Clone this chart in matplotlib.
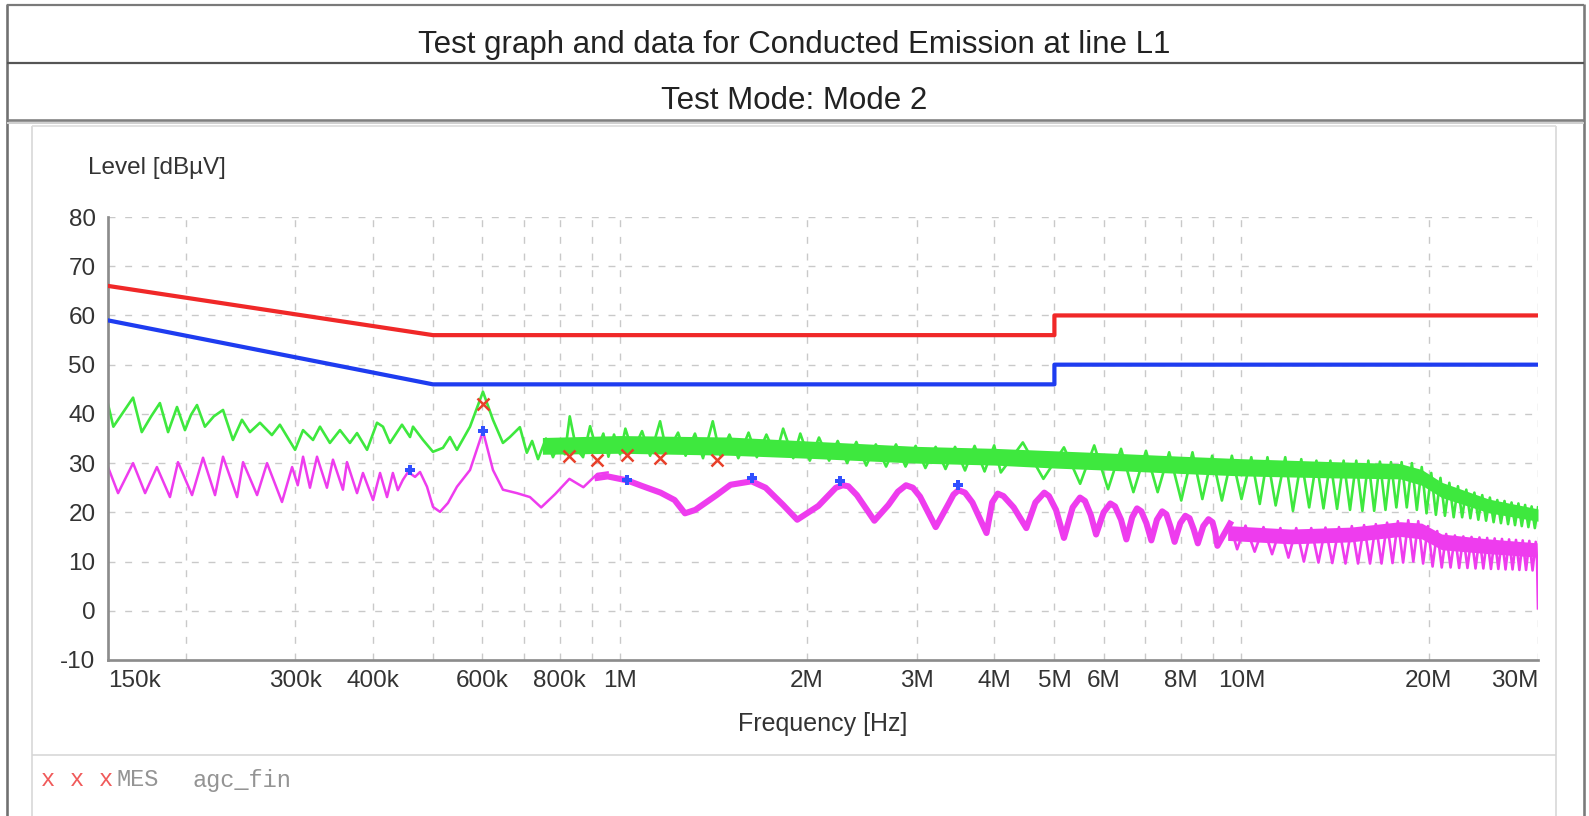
import matplotlib
matplotlib.use("Agg")
import matplotlib.pyplot as plt
from matplotlib.ticker import NullLocator

# ---------------- data (frequencies in MHz, levels in dBuV) ----------------
limit_qp_f = [0.15, 0.5, 5.0, 5.0, 30.0]
limit_qp_db = [66, 56, 56, 60, 60]
limit_av_f = [0.15, 0.5, 5.0, 5.0, 30.0]
limit_av_db = [59, 46, 46, 50, 50]

peak_f = [0.150, 0.153, 0.1646, 0.170, 0.1760, 0.1818, 0.1874, 0.1937, 0.1995, 0.2040,
          0.2086, 0.2148, 0.2220, 0.2297, 0.2383, 0.2464, 0.2538, 0.2634, 0.2753, 0.2836,
          0.300, 0.309, 0.3206, 0.329, 0.3413, 0.3543, 0.3676, 0.3774, 0.3917, 0.4064,
          0.4155, 0.4264, 0.4458, 0.4593, 0.4644, 0.482, 0.500, 0.5189, 0.5325, 0.5465,
          0.5736, 0.6018, 0.6245, 0.648, 0.665, 0.690, 0.708, 0.722, 0.738, 0.760,
          0.780, 0.800, 0.815, 0.830, 0.850, 0.872, 0.895, 0.918, 0.940, 0.958,
          0.978, 1.000, 1.020, 1.048, 1.085, 1.118, 1.160, 1.190, 1.240, 1.275,
          1.320, 1.360, 1.410, 1.450, 1.500, 1.550, 1.610, 1.660, 1.720, 1.780,
          1.830, 1.900, 1.950, 2.020, 2.090, 2.170, 2.240, 2.320, 2.400, 2.490,
          2.580, 2.680, 2.780, 2.880, 2.990, 3.100, 3.220, 3.340, 3.460, 3.590,
          3.720, 3.860, 4.000, 4.100, 4.448, 4.800, 5.180, 5.500, 5.795, 6.100,
          6.400, 6.700, 7.020, 7.330, 7.650, 8.000, 8.340, 8.650, 8.970, 9.300,
          9.650, 10.00, 10.37, 10.70, 11.01, 11.35, 11.76, 12.10, 12.48, 12.85,
          13.20, 13.55, 13.90, 14.25, 14.60, 14.95, 15.30, 15.65, 16.00, 16.35,
          16.70, 17.05, 17.40, 17.75, 18.10, 18.45, 18.80, 19.15, 19.50, 19.85,
          20.20, 20.55, 20.90, 21.25, 21.60, 21.95, 22.30, 22.65, 23.00, 23.35,
          23.70, 24.05, 24.40, 24.75, 25.10, 25.45, 25.80, 26.15, 26.50, 26.85,
          27.20, 27.55, 27.90, 28.25, 28.60, 28.95, 29.30, 29.65, 30.00]
peak_db = [42.0, 37.4, 43.3, 36.3, 39.5, 42.2, 36.3, 41.4, 36.7, 39.8,
           41.8, 37.4, 39.5, 40.8, 34.7, 38.8, 36.3, 38.2, 35.7, 37.8,
           32.7, 36.7, 34.7, 37.4, 34.1, 36.7, 34.1, 36.1, 32.7, 38.2,
           37.4, 34.1, 37.8, 35.3, 37.4, 34.7, 32.3, 33.1, 35.3, 32.7,
           37.4, 44.5, 38.8, 34.1, 35.3, 37.3, 32.1, 34.5, 30.8, 35.0,
           31.2, 34.5, 31.8, 39.5, 33.0, 31.2, 37.5, 32.5, 36.0, 31.3,
           35.8, 31.8, 37.0, 32.3, 36.5, 31.5, 38.5, 32.0, 36.2, 31.5,
           36.0, 31.0, 38.5, 31.5, 35.8, 31.0, 36.2, 31.2, 35.8, 31.5,
           37.0, 31.0, 36.0, 30.5, 35.2, 30.5, 34.5, 30.0, 34.3, 29.5,
           33.8, 29.3, 33.8, 29.3, 33.5, 29.0, 33.3, 28.8, 33.3, 28.5,
           33.5, 28.3, 33.6, 28.1, 34.2, 26.8, 33.2, 25.8, 33.6, 24.7,
           32.9, 24.1, 32.5, 24.1, 32.2, 22.4, 32.2, 22.7, 31.5, 22.4,
           31.5, 22.7, 31.2, 21.7, 31.2, 21.4, 31.2, 20.3, 30.8, 21.0,
           30.5, 20.8, 30.5, 20.7, 30.5, 20.5, 30.5, 20.3, 30.5, 20.3,
           30.3, 20.5, 30.2, 21.0, 30.2, 21.0, 30.0, 20.5, 29.2, 19.8,
           28.0, 19.5, 27.0, 19.3, 26.0, 19.0, 25.3, 19.0, 24.6, 18.8,
           24.0, 18.5, 23.5, 18.3, 23.0, 18.0, 22.5, 17.8, 22.3, 17.6,
           22.0, 17.4, 21.8, 17.2, 21.5, 17.0, 21.2, 16.8, 21.0]

peak_band_f = [0.75, 1.0, 1.5, 2.0, 3.0, 4.0, 5.0, 6.0, 8.0, 10.0, 14.0, 18.0, 19.5, 21.0, 25.0, 30.0]
peak_band_hi = [35.2, 35.6, 35.3, 34.5, 33.4, 33.0, 32.5, 32.1, 31.4, 30.9, 30.3, 29.9, 28.7, 26.1, 22.7, 20.7]
peak_band_lo = [31.8, 32.0, 31.6, 31.0, 30.0, 29.6, 29.0, 28.6, 27.9, 27.4, 27.0, 26.8, 25.5, 23.0, 19.9, 18.2]

avg_thin_f = [0.150, 0.1557, 0.1646, 0.1721, 0.1798, 0.1887, 0.1944, 0.2048, 0.2133, 0.2230,
              0.2297, 0.2420, 0.2474, 0.2606, 0.2704, 0.2858, 0.2967, 0.3030, 0.3090, 0.3170,
              0.3254, 0.3376, 0.3452, 0.3582, 0.3636, 0.3774, 0.3858, 0.4005, 0.4110, 0.4218,
              0.4310, 0.4390, 0.4473, 0.4559, 0.4679, 0.4766, 0.4891, 0.5001, 0.5132, 0.5286,
              0.5465, 0.5736, 0.6018, 0.6245, 0.6480, 0.6825, 0.7162, 0.7466, 0.7862, 0.8290,
              0.8730, 0.9190, 0.9551]
avg_thin_db = [29.2, 23.9, 30.0, 23.9, 29.2, 23.1, 30.2, 23.5, 31.1, 23.5,
               31.3, 23.1, 30.2, 23.5, 30.0, 22.1, 29.2, 25.5, 31.3, 25.0,
               31.3, 25.0, 30.7, 24.6, 30.2, 23.9, 28.0, 22.5, 28.0, 23.1,
               28.0, 24.5, 26.6, 28.2, 27.2, 28.2, 25.2, 21.1, 20.1, 21.9,
               25.2, 28.6, 36.5, 28.6, 24.6, 23.9, 23.1, 21.0, 23.7, 26.8,
               25.1, 27.8, 28.1]

avg_wide_f = [0.920, 0.955, 1.026, 1.088, 1.162, 1.224, 1.272, 1.322, 1.430, 1.506,
              1.628, 1.715, 1.830, 1.928, 2.085, 2.225, 2.283, 2.330, 2.405, 2.566,
              2.703, 2.800, 2.885, 2.960, 3.039, 3.221, 3.370, 3.440, 3.505, 3.590,
              3.690, 3.888, 3.970, 4.053, 4.140, 4.300, 4.506, 4.660, 4.816, 4.900,
              5.030, 5.180, 5.350, 5.497, 5.600, 5.720, 5.835, 6.000, 6.151, 6.260,
              6.400, 6.528, 6.670, 6.790, 6.900, 7.030, 7.160, 7.310, 7.454, 7.570,
              7.690, 7.805, 7.970, 8.121, 8.250, 8.380, 8.507, 8.680, 8.849, 8.980,
              9.070, 9.147, 9.583]
avg_wide_db = [27.0, 27.3, 26.5, 25.3, 24.0, 22.5, 19.8, 20.5, 23.5, 25.6,
               26.3, 25.0, 21.5, 18.5, 21.3, 25.0, 25.5, 25.3, 23.5, 18.3,
               21.5, 24.2, 25.5, 25.0, 23.2, 17.0, 21.5, 23.6, 24.5, 24.0,
               22.0, 15.8, 22.0, 23.8, 23.3, 21.0, 16.8, 22.0, 24.0, 23.3,
               20.5, 14.8, 21.0, 23.0, 22.3, 19.5, 15.5, 20.0, 21.8, 21.2,
               18.5, 14.5, 19.0, 20.8, 20.2, 17.8, 14.3, 18.5, 20.2, 19.6,
               17.0, 14.0, 17.8, 19.3, 18.8, 16.5, 13.7, 17.2, 18.6, 18.0,
               16.0, 13.2, 17.7]

avg_comb_f = [9.58, 9.84, 10.15, 10.50, 10.85, 11.20, 11.55, 11.90, 12.25, 12.60,
              12.95, 13.30, 13.65, 14.00, 14.35, 14.70, 15.05, 15.40, 15.75, 16.10,
              16.45, 16.80, 17.15, 17.50, 17.85, 18.20, 18.55, 18.90, 19.25, 19.60,
              19.95, 20.30, 20.65, 21.00, 21.35, 21.70, 22.05, 22.40, 22.75, 23.10,
              23.45, 23.80, 24.15, 24.50, 24.85, 25.20, 25.55, 25.90, 26.25, 26.60,
              26.95, 27.30, 27.65, 28.00, 28.35, 28.70, 29.05, 29.40, 29.75, 29.90,
              30.00]
avg_comb_db = [17.7, 12.5, 17.3, 12.0, 17.0, 11.5, 16.8, 10.8, 16.8, 10.0,
               16.8, 9.8, 16.9, 9.7, 17.0, 9.6, 17.2, 9.6, 17.4, 9.6,
               17.6, 9.6, 17.9, 9.7, 18.2, 9.8, 18.4, 10.0, 18.2, 9.6,
               17.2, 9.0, 16.2, 8.8, 15.6, 8.8, 15.3, 8.7, 15.1, 8.7,
               15.0, 8.6, 14.9, 8.6, 14.8, 8.5, 14.7, 8.5, 14.6, 8.4,
               14.5, 8.4, 14.4, 8.3, 14.3, 8.3, 14.2, 8.2, 14.0, 10.0,
               0.5]

avg_band_f = [9.5, 12.0, 15.0, 18.0, 19.5, 21.0, 25.0, 29.9]
avg_band_hi = [17.3, 16.6, 17.0, 18.1, 17.8, 15.6, 14.6, 13.8]
avg_band_lo = [14.3, 13.6, 14.0, 15.1, 14.6, 12.4, 11.6, 10.9]

mes_f = [0.6026, 0.829, 0.919, 1.027, 1.160, 1.430]
mes_db = [42.0, 31.4, 30.7, 31.7, 31.0, 30.6]
avg_fin_f = [0.459, 0.6026, 1.027, 1.628, 2.26, 3.50]
avg_fin_db = [28.6, 36.5, 26.5, 27.0, 26.3, 25.6]

xtick_vals = [0.15, 0.3, 0.4, 0.6, 0.8, 1, 2, 3, 4, 5, 6, 8, 10, 20, 30]
xtick_labels = ["150k", "300k", "400k", "600k", "800k", "1M", "2M", "3M", "4M",
                "5M", "6M", "8M", "10M", "20M", "30M"]
xgrid_vals = [0.2, 0.3, 0.4, 0.5, 0.6, 0.7, 0.8, 0.9, 1, 2, 3, 4, 5, 6, 7, 8, 9, 10, 20, 30]
ytick_vals = [-10, 0, 10, 20, 30, 40, 50, 60, 70, 80]

title_text = "Test graph and data for Conducted Emission at line L1"
mode_text = "Test Mode: Mode 2"

# ---------------- drawing ----------------
W, H = 1589, 816
FONT = ["Liberation Sans", "DejaVu Sans"]
MONO = ["Liberation Mono", "DejaVu Sans Mono"]
plt.rcParams["font.family"] = FONT


def px(v):
    return v * 0.72


fig = plt.figure(figsize=(W / 100, H / 100), dpi=100)
fig.patch.set_facecolor("white")

bg = fig.add_axes([0, 0, 1, 1], zorder=0)
bg.set_xlim(0, W)
bg.set_ylim(H, 0)
bg.axis("off")

# outer frame and header rows
bg.plot([7, 7], [4, H], color="#707070", lw=px(2.6), solid_capstyle="butt")
bg.plot([1584, 1584], [4, H], color="#7a7a7a", lw=px(2.6), solid_capstyle="butt")
bg.plot([7, 1584], [5, 5], color="#7a7a7a", lw=px(2.2), solid_capstyle="butt")
bg.plot([7, 1584], [63, 63], color="#555555", lw=px(2.2), solid_capstyle="butt")
bg.plot([7, 1584], [120, 120], color="#808080", lw=px(2.6), solid_capstyle="butt")
bg.plot([7, 1584], [123, 123], color="#d0d0d0", lw=px(2.0), solid_capstyle="butt")
# inner panel
bg.plot([32, 32], [126, H], color="#d6d6d6", lw=px(1.6), solid_capstyle="butt")
bg.plot([1556, 1556], [126, H], color="#d6d6d6", lw=px(1.6), solid_capstyle="butt")
bg.plot([32, 1556], [126, 126], color="#dcdcdc", lw=px(1.6), solid_capstyle="butt")
bg.plot([32, 1556], [755, 755], color="#d6d6d6", lw=px(1.6), solid_capstyle="butt")

bg.text(794, 45, title_text, ha="center", va="center", fontsize=22.5, color="#222222")
bg.text(794, 101, mode_text, ha="center", va="center", fontsize=22.5, color="#222222")
bg.text(88, 168, "Level [dBµV]", ha="left", va="center", fontsize=17.5, color="#333333")
bg.text(823, 724, "Frequency [Hz]", ha="center", va="center", fontsize=18, color="#333333")

for xx in [48, 77, 106]:
    bg.text(xx, 780, "x", ha="center", va="center", fontsize=17, family=MONO, color="#f05a5a")
bg.text(116, 780, "MES", ha="left", va="center", fontsize=17, family=MONO, color="#949494")
bg.text(193, 780, "agc_fin", ha="left", va="center", fontsize=17, family=MONO, color="#949494")

ax = fig.add_axes([108 / W, 1 - 660 / H, 1430 / W, 443 / H], zorder=1)
ax.patch.set_alpha(0)
ax.set_xscale("log")
ax.set_xlim(0.15, 30)
ax.set_ylim(-10, 80)

for g in xgrid_vals:
    ax.axvline(g, color="#c9c9c9", lw=1.0, ls=(0, (5, 7)), zorder=0.5)
for g in ytick_vals[1:]:
    ax.axhline(g, color="#c9c9c9", lw=1.0, ls=(0, (5, 7)), zorder=0.5)

ax.xaxis.set_minor_locator(NullLocator())
ax.set_xticks(xtick_vals)
ax.set_xticklabels(xtick_labels)
ax.set_yticks(ytick_vals)
ax.set_yticklabels([str(v) for v in ytick_vals])
ax.tick_params(axis="both", length=0, labelsize=17.5, labelcolor="#333333")
ax.tick_params(axis="x", pad=7)
ax.tick_params(axis="y", pad=9)
labs = ax.get_xticklabels()
labs[0].set_ha("left")
labs[-1].set_ha("right")

for s in ["top", "right"]:
    ax.spines[s].set_visible(False)
for s in ["left", "bottom"]:
    ax.spines[s].set_color("#8c8c8c")
    ax.spines[s].set_linewidth(px(2.7))

green = "#3ee83e"
magenta = "#ee3cee"

ax.fill_between(peak_band_f, peak_band_lo, peak_band_hi, color=green, lw=0, zorder=2)
ax.plot(peak_f, peak_db, color=green, lw=1.9, zorder=2.1)

ax.fill_between(avg_band_f, avg_band_lo, avg_band_hi, color=magenta, lw=0, zorder=2.2)
ax.plot(avg_thin_f, avg_thin_db, color=magenta, lw=1.8, zorder=2.3)
ax.plot(avg_wide_f, avg_wide_db, color=magenta, lw=4.4, zorder=2.3, solid_joinstyle="round")
ax.plot(avg_comb_f, avg_comb_db, color=magenta, lw=1.9, zorder=2.3)

ax.plot(limit_qp_f, limit_qp_db, color="#f02828", lw=px(4.2), zorder=3, solid_joinstyle="round")
ax.plot(limit_av_f, limit_av_db, color="#1e3cf0", lw=px(4.2), zorder=3, solid_joinstyle="round")

ax.plot(mes_f, mes_db, ls="none", marker="x", ms=8, mew=1.8, color="#e8402a", zorder=4)
ax.plot(avg_fin_f, avg_fin_db, ls="none", marker="P", ms=7, mew=0, color="#3050ff", zorder=4)

fig.savefig("out.png", dpi=100, facecolor="white")
